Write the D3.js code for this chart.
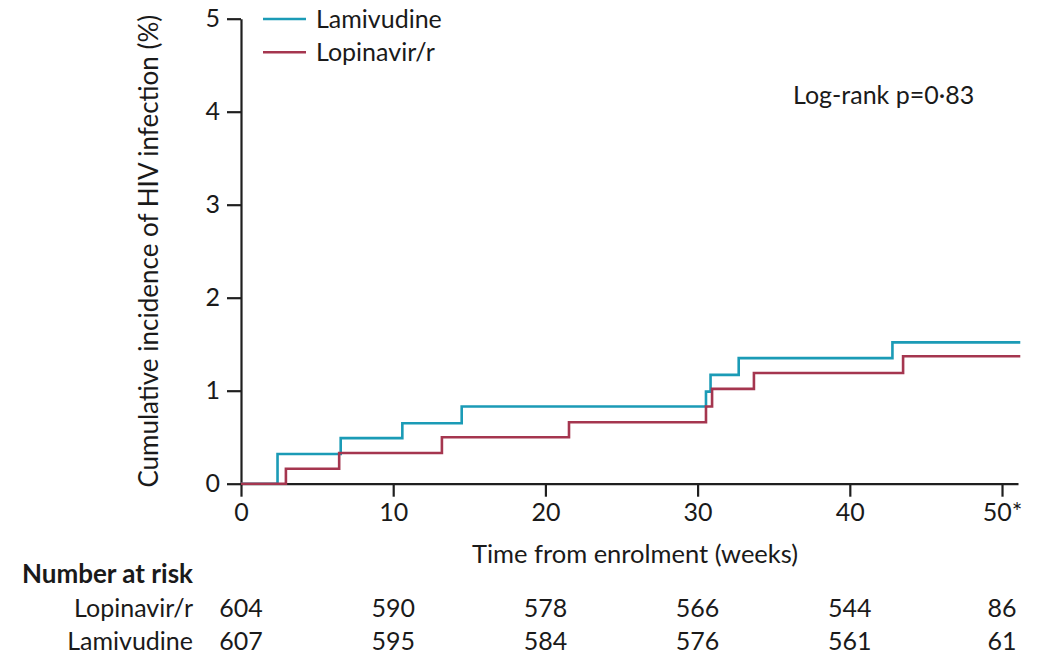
<!DOCTYPE html>
<html>
<head>
<meta charset="utf-8">
<script src="https://cdn.jsdelivr.net/npm/d3@7"></script>
<style>
  html, body { margin: 0; padding: 0; background: #fff; }
  svg { display: block; }
  text { font-family: Lato, "Open Sans", sans-serif; fill: #1a1a1a; }
</style>
</head>
<body>
<svg id="chart" width="1043" height="657"></svg>
<script>
// ---- Data ----
const seriesNames = ["Lamivudine", "Lopinavir/r"];
const lamTimes = [0, 2.4, 6.55, 10.6, 14.5, 30.55, 30.85, 32.7, 42.8];
const lamValues = [0, 0.32, 0.49, 0.65, 0.83, 0.99, 1.17, 1.35, 1.52];
const lpvTimes = [0, 2.95, 6.45, 13.2, 21.55, 30.55, 30.95, 33.7, 43.5];
const lpvValues = [0, 0.16, 0.33, 0.50, 0.66, 0.83, 1.02, 1.19, 1.37];
const followUpEnd = 51.2;
const xTicks = [0, 10, 20, 30, 40, 50];
const xTickLabels = ["0", "10", "20", "30", "40", "50*"];
const yTicks = [0, 1, 2, 3, 4, 5];
const riskLabels = ["Lopinavir/r", "Lamivudine"];
const lpvRisk = [604, 590, 578, 566, 544, 86];
const lamRisk = [607, 595, 584, 576, 561, 61];
const pText = "Log-rank p=0\u00b783";

// ---- Styles ----
const colors = { "Lamivudine": "#1b9bb6", "Lopinavir/r": "#a5364f" };
const axisColor = "#1f1f1f";
const fs = 25;

const svg = d3.select("#chart");
const x = d3.scaleLinear().domain([0, 51.05]).range([241, 1018]);
const y = d3.scaleLinear().domain([0, 5]).range([483.7, 18.7]);

// Axes
const xAxis = d3.axisBottom(x)
  .tickValues(xTicks)
  .tickFormat((d, i) => xTickLabels[i])
  .tickSizeInner(13).tickSizeOuter(0).tickPadding(7);
const gx = svg.append("g").attr("transform", `translate(0,${y(0)})`).call(xAxis);

const yAxis = d3.axisLeft(y).tickValues(yTicks).tickFormat(d3.format("d"))
  .tickSizeInner(14).tickSizeOuter(0).tickPadding(7);
const gy = svg.append("g").attr("transform", `translate(${x(0)},0)`).call(yAxis);

[gx, gy].forEach(g => {
  g.selectAll("path.domain").attr("stroke", axisColor).attr("stroke-width", 2.2);
  g.selectAll(".tick line").attr("stroke", axisColor).attr("stroke-width", 2.2);
  g.selectAll(".tick text").attr("fill", "#1a1a1a")
    .style("font-family", "Lato, 'Open Sans', sans-serif").style("font-size", fs + "px");
});

// Step curves
const series = [
  { name: "Lamivudine", t: lamTimes, v: lamValues },
  { name: "Lopinavir/r", t: lpvTimes, v: lpvValues }
];
const line = d3.line().x(d => x(d[0])).y(d => y(d[1])).curve(d3.curveStepAfter);
["Lamivudine", "Lopinavir/r"].forEach(name => {
  const s = series.find(s => s.name === name);
  const pts = s.t.map((t, i) => [t, s.v[i]]);
  pts.push([followUpEnd, s.v[s.v.length - 1]]);
  svg.append("path").datum(pts).attr("d", line)
    .attr("fill", "none").attr("stroke", colors[name]).attr("stroke-width", 2.6);
});

// Legend
const legend = svg.append("g");
seriesNames.forEach((name, i) => {
  const yy = 19 + i * 33.3;
  legend.append("line").attr("x1", 263).attr("x2", 306).attr("y1", yy).attr("y2", yy)
    .attr("stroke", colors[name]).attr("stroke-width", 2.6);
  legend.append("text").attr("x", 316).attr("y", yy).attr("dy", "0.36em")
    .style("font-size", fs + "px").text(name);
});

// p-value
svg.append("text").attr("x", 793).attr("y", 104).style("font-size", fs + "px").text(pText);

// Axis titles
svg.append("text").attr("x", 635).attr("y", 563)
  .attr("text-anchor", "middle").style("font-size", "25.5px")
  .text("Time from enrolment (weeks)");
svg.append("text")
  .attr("transform", `translate(158,${(y(0) + y(5)) / 2}) rotate(-90)`)
  .attr("text-anchor", "middle").style("font-size", "26px")
  .text("Cumulative incidence of HIV infection (%)");

// Number at risk table
svg.append("text").attr("x", 22).attr("y", 583).style("font-size", "26px")
  .style("font-weight", "bold").text("Number at risk");
const riskRows = [lpvRisk, lamRisk];
riskRows.forEach((row, r) => {
  const yy = 617 + r * 33;
  svg.append("text").attr("x", 193).attr("y", yy).attr("text-anchor", "end")
    .style("font-size", fs + "px").text(riskLabels[r]);
  svg.selectAll(null).data(row).enter().append("text")
    .attr("x", (d, i) => x(xTicks[i])).attr("y", yy).attr("text-anchor", "middle")
    .style("font-size", fs + "px").text(d => d);
});
</script>
</body>
</html>
